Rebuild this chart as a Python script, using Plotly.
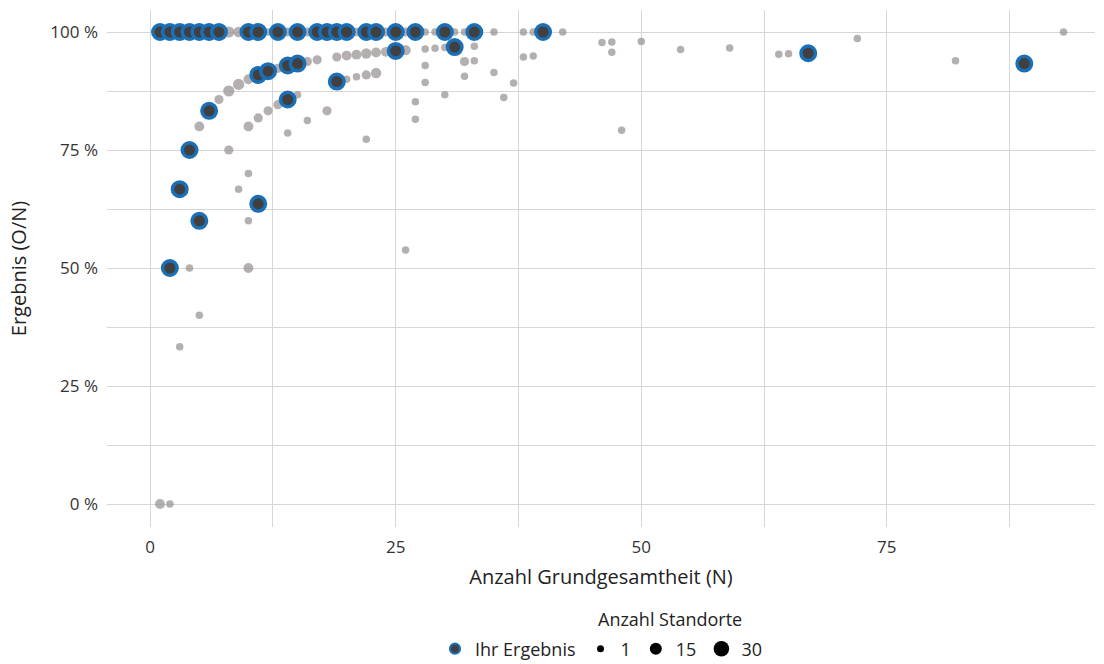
import plotly.graph_objects as go
import numpy as np

# ---- data: all sites (grey, sized by number of sites) ----
all_n = [1, 2, 3, 4, 5, 6, 7, 8, 9, 10, 11, 12, 13, 14, 15, 16, 17, 18, 19, 20,
         21, 22, 23, 24, 25, 26, 27, 28, 29, 30, 31, 32, 33, 35, 38, 39, 40, 42, 93,
         2, 3, 4, 5, 6, 7, 8, 9, 10, 11, 12, 13, 14, 15, 16, 17, 19, 20, 21, 22, 23, 24,
         25, 26, 28, 29, 30, 31, 33,
         4, 8, 10, 11, 12, 13, 15, 20, 21, 22, 23, 28, 33,
         1, 2, 3, 5, 9, 10, 10, 10, 14, 16, 18, 22, 26, 27, 27, 28, 30, 32, 32, 35,
         36, 37, 38, 39, 46, 47, 47, 48, 50, 54, 59, 64, 65, 72, 82]
all_pct = [100] * 39 + [
    50.0, 66.7, 75.0, 80.0, 83.3, 85.7, 87.5, 88.9, 90.0, 90.9, 91.7, 92.3, 92.9, 93.3,
    93.75, 94.1, 94.7, 95.0, 95.2, 95.45, 95.65, 95.8, 96.0, 96.15, 96.4, 96.55, 96.7,
    96.8, 97.0,
    50.0, 75.0, 80.0, 81.8, 83.3, 84.6, 86.7, 90.0, 90.5, 90.9, 91.3, 92.9, 93.9,
    0.0, 0.0, 33.3, 40.0, 66.7, 70.0, 60.0, 50.0, 78.6, 81.25, 83.3, 77.3, 53.8, 85.2,
    81.5, 89.3, 86.7, 93.75, 90.6, 91.4, 86.1, 89.2, 94.7, 94.9, 97.8, 97.9, 95.7,
    79.2, 98.0, 96.3, 96.6, 95.3, 95.4, 98.6, 93.9]
all_count = [30, 22, 18, 15, 14, 12, 12, 6, 4, 10, 9, 1, 8, 2, 8, 2, 6, 6, 6, 6,
             2, 5, 5, 2, 5, 2, 4, 1, 1, 4, 1, 1, 3, 1, 1, 1, 2, 1, 1,
             3, 3, 4, 3, 4, 2, 6, 6, 3, 4, 4, 2, 4, 4, 2, 2, 2, 3, 3, 4, 3, 3,
             3, 4, 1, 1, 1, 2, 1,
             1, 2, 3, 2, 2, 2, 1, 1, 1, 2, 4, 1, 1,
             3, 1, 1, 1, 1, 1, 1, 3, 1, 1, 2, 1, 1, 1,
             1, 1, 1, 2, 1, 1, 1, 1, 1, 1, 1, 1, 1, 1, 1, 1, 1, 1, 1, 1, 1]

# ---- data: own results (blue) ----
own_n = [1, 2, 3, 4, 5, 6, 7, 10, 11, 13, 15, 17, 18, 19, 20, 22, 23, 25, 27, 30, 33, 40,
         2, 3, 4, 5, 6, 11, 12, 14, 15, 11, 14, 19, 25, 31, 67, 89]
own_pct = [100] * 22 + [50.0, 66.7, 75.0, 60.0, 83.3, 90.9, 91.7, 92.9, 93.3, 63.6,
                        85.7, 89.5, 96.0, 96.8, 95.5, 93.3]

y_tickvals = [0, 25, 50, 75, 100]
y_ticktext = ["0 %", "25 %", "50 %", "75 %", "100 %"]
x_tickvals = [0, 25, 50, 75]
legend_counts = [1, 15, 30]


def size_of(c):
    return 7.5 + 9 * np.sqrt((np.asarray(c, dtype=float) - 1) / 29)


FONT = "Open Sans"
GREY = "#958f8f"
BLUE = "#1b6fb6"
DARK = "#404040"

fig = go.Figure()
fig.add_trace(go.Scatter(
    x=all_n, y=all_pct, mode="markers", showlegend=False, hoverinfo="skip",
    marker=dict(color=GREY, size=size_of(all_count), line=dict(width=0)),
))
fig.add_trace(go.Scatter(
    x=own_n, y=own_pct, mode="markers", showlegend=False,
    marker=dict(color=DARK, size=14.5, line=dict(color=BLUE, width=3.5)),
))
# legend entries
fig.add_trace(go.Scatter(
    x=[None], y=[None], mode="markers", name="Ihr Ergebnis",
    marker=dict(color=DARK, size=10, line=dict(color=BLUE, width=2.2)),
))
for c, s in zip(legend_counts, [7, 12, 15.5]):
    fig.add_trace(go.Scatter(
        x=[None], y=[None], mode="markers", name=str(c),
        marker=dict(color="black", size=s, line=dict(width=0)),
    ))

grid = "#d6d6d6"
fig.update_layout(
    width=1104, height=664,
    margin=dict(l=107, r=9, t=10, b=137, autoexpand=False),
    paper_bgcolor="white", plot_bgcolor="white",
    font=dict(family=FONT, size=18, color="#222222"),
    xaxis=dict(
        range=[-4.4, 96.2], tickvals=x_tickvals, showgrid=True, gridcolor=grid,
        gridwidth=1, zeroline=False, showline=False, ticks="", automargin=False,
        ticklabelstandoff=8,
        tickfont=dict(size=17, color="#333333"),
        title=dict(text="Anzahl Grundgesamtheit (N)", font=dict(size=20, color="#222222"),
                   standoff=12),
        minor=dict(dtick=12.5, showgrid=True, gridcolor=grid, gridwidth=1),
    ),
    yaxis=dict(
        range=[-4.87, 104.66], tickvals=y_tickvals, ticktext=y_ticktext,
        showgrid=True, gridcolor=grid, gridwidth=1, zeroline=False, showline=False,
        ticks="", automargin=False, ticklabelstandoff=8,
        tickfont=dict(size=17, color="#333333"),
        title=dict(text="Ergebnis (O/N)", font=dict(size=20, color="#222222"),
                   standoff=18),
        minor=dict(dtick=12.5, showgrid=True, gridcolor=grid, gridwidth=1),
    ),
    legend=dict(
        orientation="h", x=0.5, xanchor="center", y=-0.236, yanchor="middle",
        font=dict(size=18, color="#222222"), itemsizing="trace",
        traceorder="normal",
    ),
    annotations=[dict(
        text="Anzahl Standorte", xref="paper", yref="paper", x=0.57, y=-0.178,
        xanchor="center", yanchor="middle", showarrow=False,
        font=dict(size=18, color="#222222"),
    )],
)

fig.write_html("out.html", config={"displayModeBar": False},
               post_script="document.body.style.margin='0';")
